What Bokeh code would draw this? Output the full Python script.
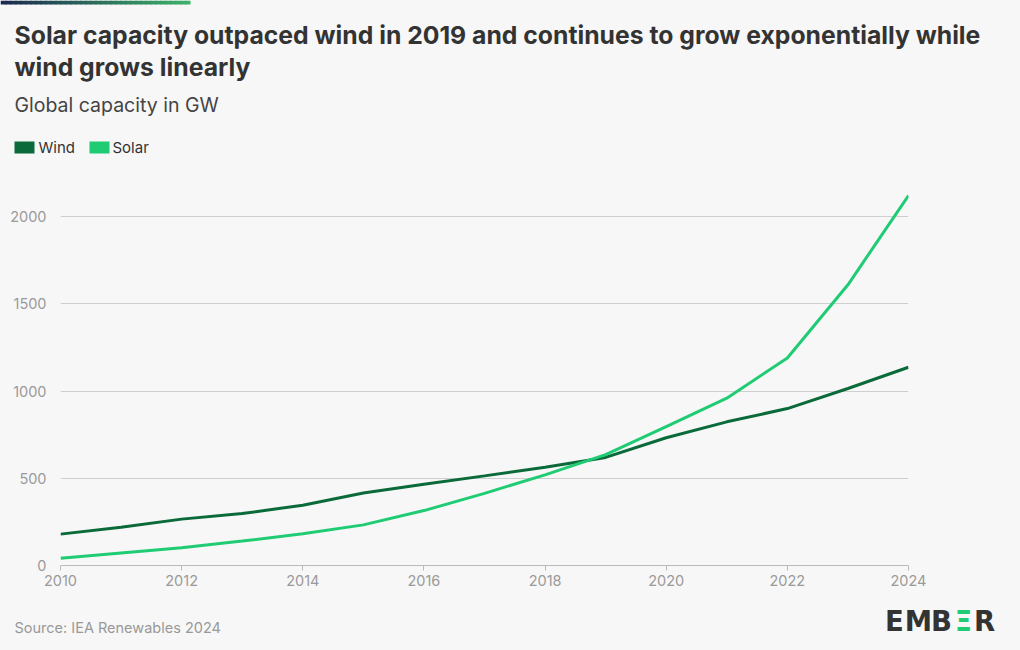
from bokeh.plotting import figure
from bokeh.layouts import column
from bokeh.models import Range1d, Label, FixedTicker
from bokeh.embed import file_html
from bokeh.resources import INLINE

years = list(range(2010, 2025))
wind = [180, 220, 266, 298, 346, 416, 466, 514, 563, 620, 733, 824, 900, 1015, 1137]
solar = [41, 72, 102, 140, 182, 233, 315, 414, 520, 636, 797, 960, 1190, 1610, 2122]
x_ticks = [2010, 2012, 2014, 2016, 2018, 2020, 2022, 2024]
y_ticks = [0, 500, 1000, 1500, 2000]

title_lines = ["Solar capacity outpaced wind in 2019 and continues to grow exponentially while",
               "wind grows linearly"]
subtitle = "Global capacity in GW"
series_names = ["Wind", "Solar"]
source_text = "Source: IEA Renewables 2024"

BG = "#f7f7f7"
WIND_C = "#0b6a3a"
SOLAR_C = "#1fcc74"

W = 1020
HEAD_H = 164
MAIN_H = 436
FOOT_H = 50


def blank(h):
    f = figure(width=W, height=h, output_backend="svg", toolbar_location=None,
               x_range=Range1d(0, W), y_range=Range1d(h, 0),
               min_border=0, x_axis_location=None, y_axis_location=None,
               background_fill_color=BG, border_fill_color=BG, outline_line_color=None)
    f.grid.visible = False
    f.frame_align = False
    return f


def label(f, x, y, text, size, color, bold=False, align="left", font="Inter"):
    f.add_layout(Label(x=x, y=y, text=text, text_font=font, text_font_size=size,
                       text_color=color, text_font_style="bold" if bold else "normal",
                       text_align=align, text_baseline="middle"))


# ---------- header ----------
head = blank(HEAD_H)
c0 = (0x1c, 0x2a, 0x50)
c1 = (0x3d, 0xb2, 0x6a)
n = 38
lefts, rights, cols = [], [], []
for i in range(n):
    t = i / (n - 1)
    cols.append("#%02x%02x%02x" % tuple(int(a + (b - a) * t) for a, b in zip(c0, c1)))
    lefts.append(i * 5)
    rights.append(min(i * 5 + 6, 190))
head.quad(left=lefts, right=rights, top=0, bottom=4, fill_color=cols, line_color=None)

label(head, 14, 34, title_lines[0], "24.75px", "#333333", bold=True)
label(head, 14, 66, title_lines[1], "24.75px", "#333333", bold=True)
label(head, 14, 104, subtitle, "19.5px", "#444444")

head.quad(left=[14, 89], right=[34, 109], top=[141, 141], bottom=[153, 153],
          fill_color=[WIND_C, SOLAR_C], line_color=None)
label(head, 38, 147, series_names[0], "15px", "#333333")
label(head, 112, 147, series_names[1], "15px", "#333333")

# ---------- main chart ----------
p = figure(width=W, height=MAIN_H, output_backend="svg", toolbar_location=None,
           x_range=Range1d(2010, 2024), y_range=Range1d(0, 2300),
           min_border_left=60, min_border_right=W - 908,
           min_border_top=0, min_border_bottom=35,
           background_fill_color=BG, border_fill_color=BG, outline_line_color=None)
p.frame_align = False

p.line(years, wind, line_color=WIND_C, line_width=3)
p.line(years, solar, line_color=SOLAR_C, line_width=3)

p.xgrid.grid_line_color = None
p.ygrid.grid_line_color = "#cfcfcf"
p.ygrid.grid_line_width = 1
p.xaxis.ticker = FixedTicker(ticks=x_ticks)
p.yaxis.ticker = FixedTicker(ticks=y_ticks)
for ax in (p.xaxis[0], p.yaxis[0]):
    ax.major_label_text_font = "Inter"
    ax.major_label_text_font_size = "14.5px"
    ax.major_label_text_color = "#9a9a9a"
    ax.minor_tick_line_color = None
p.yaxis.axis_line_color = None
p.yaxis.major_tick_line_color = None
p.yaxis.major_label_standoff = 8
p.xaxis.axis_line_color = "#bbbbbb"
p.xaxis.major_tick_line_color = "#bbbbbb"
p.xaxis.major_tick_in = 0
p.xaxis.major_tick_out = 5
p.xaxis.major_label_standoff = 4

# ---------- footer ----------
foot = blank(FOOT_H)
label(foot, 14, 27, source_text, "14.5px", "#999999")
for cx, ch, col in [(894, "E", "#333333"), (918, "M", "#333333"), (941, "B", "#333333"),
                    (963, "Ξ", SOLAR_C), (984, "R", "#333333")]:
    label(foot, cx, 20.5, ch, "27.5px", col, bold=True, align="center", font="DejaVu Sans")

layout = column(head, p, foot, spacing=0, background=BG)
open("out.html", "w").write(file_html(layout, INLINE))
